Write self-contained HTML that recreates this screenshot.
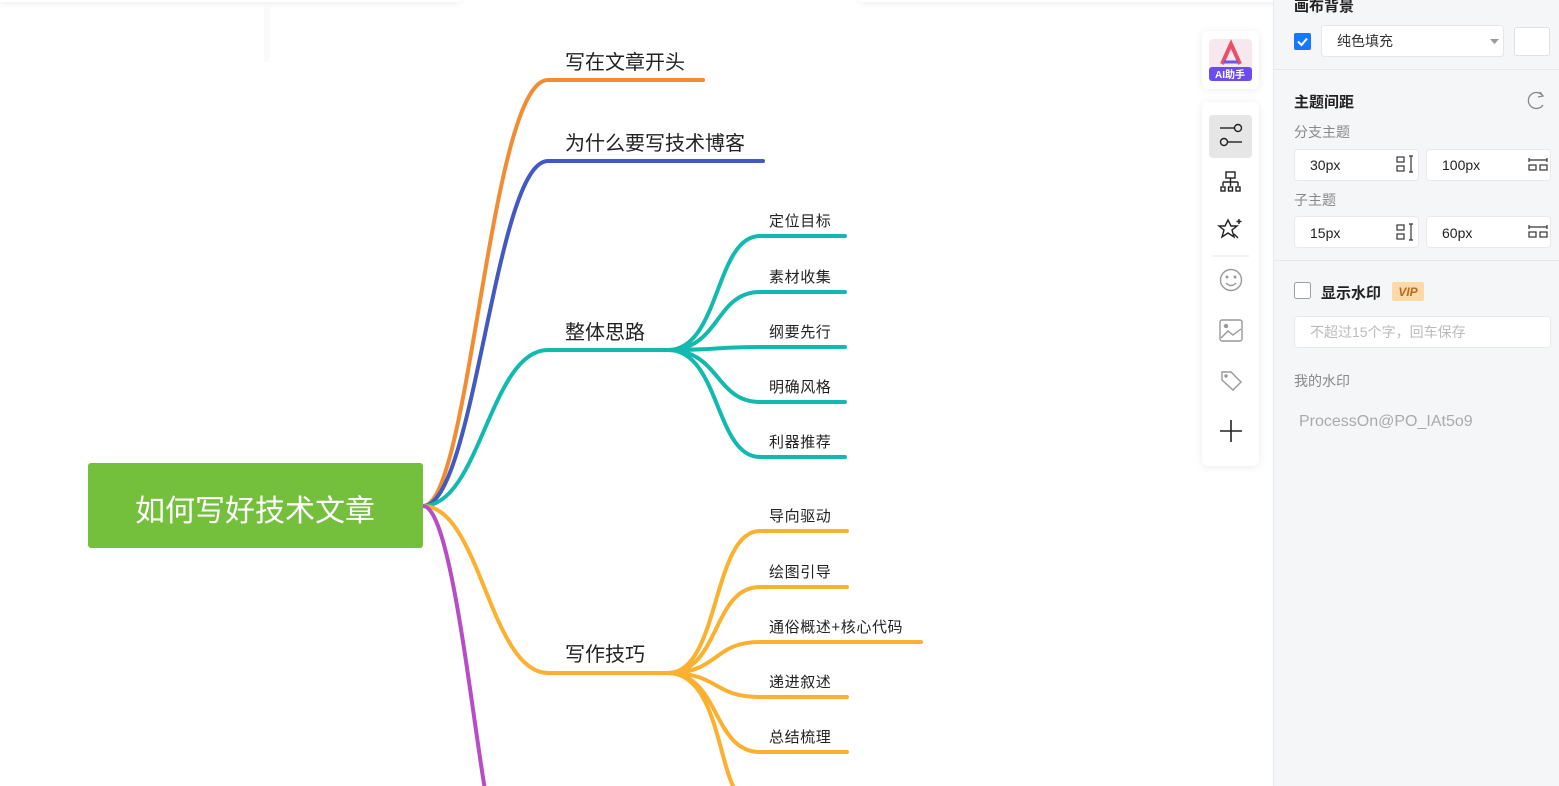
<!DOCTYPE html>
<html><head><meta charset="utf-8"><style>
html,body{margin:0;padding:0;width:1559px;height:786px;overflow:hidden;background:#fff;font-family:"Liberation Sans","Noto Sans CJK SC",sans-serif;}
</style></head><body>
<svg width="1559" height="786" viewBox="0 0 1559 786" xmlns="http://www.w3.org/2000/svg" style="position:absolute;left:0;top:0;font-family:'Liberation Sans','Noto Sans CJK SC',sans-serif">
<defs>
<filter id="sh" x="-50%" y="-50%" width="200%" height="200%"><feDropShadow dx="0" dy="1" stdDeviation="4" flood-color="#000" flood-opacity="0.08"/></filter>
</defs>
<rect x="0" y="-10" width="460" height="12" fill="#fff" filter="url(#sh)"/>
<rect x="860" y="-10" width="420" height="12" fill="#fff" filter="url(#sh)"/>
<rect x="264" y="6" width="6" height="56" fill="#fafafa"/>
<g fill="none" stroke-width="4" stroke-linecap="round">
<path d="M423,506 C470,506 490,80 548,80 L703,80" stroke="#f28c33"/>
<path d="M423,506 C475,506 495,161 548,161 L763,161" stroke="#4159c0"/>
<path d="M423,506 C480,506 490,350 548,350 L668,350" stroke="#12b9ae"/>
<path d="M423,506 C480,506 490,673 548,673 L668,673" stroke="#fbb02f"/>
<path d="M423,506 C450,506 470,700 485,790" stroke="#b84bc6"/>
<g stroke="#12b9ae">
<path d="M668,350 C720,350 715,236 760,236 L845,236"/>
<path d="M668,350 C720,350 715,292 760,292 L845,292"/>
<path d="M668,350 C720,350 715,347 760,347 L845,347"/>
<path d="M668,350 C720,350 715,402 760,402 L845,402"/>
<path d="M668,350 C720,350 715,457 760,457 L845,457"/>
</g>
<g stroke="#fbb02f">
<path d="M668,673 C720,673 712,531 760,531 L847,531"/>
<path d="M668,673 C720,673 712,587 760,587 L847,587"/>
<path d="M668,673 C720,673 712,642 760,642 L921,642"/>
<path d="M668,673 C720,673 712,697 760,697 L847,697"/>
<path d="M668,673 C720,673 712,752 760,752 L847,752"/>
<path d="M668,673 C715,673 718,760 735,790"/>
</g>
</g>
<rect x="88" y="463" width="335" height="85" rx="3" fill="#74c03c"/>
<text x="255" y="521" font-size="30" fill="#fff" text-anchor="middle">如何写好技术文章</text>
<g font-size="20" fill="#222">
<text x="565" y="69">写在文章开头</text>
<text x="565" y="150">为什么要写技术博客</text>
<text x="565" y="339">整体思路</text>
<text x="565" y="661">写作技巧</text>
</g>
<g font-size="15" fill="#222" letter-spacing="0.6">
<text x="769" y="226">定位目标</text>
<text x="769" y="282">素材收集</text>
<text x="769" y="337">纲要先行</text>
<text x="769" y="392">明确风格</text>
<text x="769" y="447">利器推荐</text>
<text x="769" y="521">导向驱动</text>
<text x="769" y="577">绘图引导</text>
<text x="769" y="632">通俗概述+核心代码</text>
<text x="769" y="687">递进叙述</text>
<text x="769" y="742">总结梳理</text>
</g>
<rect x="1202" y="31" width="57" height="58" rx="6" fill="#fff" filter="url(#sh)"/>
<rect x="1209" y="39" width="43" height="42" rx="4" fill="#f6e8ef"/>
<path d="M1222,64 L1231,44 L1240,64" stroke="#e8506a" stroke-width="4" fill="none"/>
<path d="M1224,62 L1238,62" stroke="#6b55e8" stroke-width="3"/>
<rect x="1209" y="67" width="43" height="14" rx="3" fill="#6c4cf0"/>
<text x="1230" y="78" font-size="10" fill="#fff" text-anchor="middle" font-weight="bold">AI助手</text>
<rect x="1202" y="102" width="57" height="364" rx="6" fill="#fff" filter="url(#sh)"/>
<rect x="1209" y="115" width="43" height="43" rx="4" fill="#e6e6e6"/>
<g stroke="#222" stroke-width="1.4" fill="none">
<path d="M1220,128 H1234"/><circle cx="1238" cy="128" r="3.5"/>
<circle cx="1224" cy="142" r="3.5"/><path d="M1228,142 H1242"/>
<rect x="1226" y="172" width="9" height="6"/><path d="M1230.5,178 V182 M1223,182 H1238 M1223,182 V186 M1230.5,182 V186 M1238,182 V186"/>
<rect x="1221" y="187" width="4" height="4"/><rect x="1228.5" y="187" width="4" height="4"/><rect x="1236" y="187" width="4" height="4"/>
<path d="M1228,220 L1231,226 L1237,226 L1232,230 L1234,237 L1228,233 L1222,237 L1224,230 L1219,226 L1225,226 Z"/>
<path d="M1234,234 L1238,238 M1239,219 V224 M1236.5,221.5 H1241.5"/>
</g>
<path d="M1212,256 H1249" stroke="#e5e5e5"/>
<g stroke="#999" stroke-width="1.4" fill="none">
<circle cx="1231" cy="280" r="10.5"/><circle cx="1227" cy="277" r="0.8" fill="#999"/><circle cx="1235" cy="277" r="0.8" fill="#999"/><path d="M1226,283 Q1231,288 1236,283"/>
<rect x="1220" y="320" width="22" height="21" rx="2"/><circle cx="1226" cy="326" r="1.5" fill="#999"/><path d="M1221,338 L1228,331 L1233,335 L1241,329"/>
<path d="M1222,372 H1231 L1241,382 L1233,390 L1222,380 Z"/><circle cx="1226" cy="376" r="1" fill="#999"/>
</g>
<path d="M1220,431 H1242 M1231,420 V442" stroke="#222" stroke-width="1.6"/>
<rect x="1273" y="0" width="286" height="786" fill="#f5f6f8"/>
<path d="M1273.5,0 V786" stroke="#e8e9ec"/>
<text x="1294" y="11" font-size="15" font-weight="bold" fill="#222">画布背景</text>
<rect x="1294" y="33" width="17" height="17" rx="2" fill="#1677ff"/>
<path d="M1298,41.5 L1301.5,45 L1307,38.5" stroke="#fff" stroke-width="2" fill="none"/>
<rect x="1321.5" y="25.5" width="182" height="31" rx="3" fill="#fff" stroke="#e5e6ea"/>
<text x="1337" y="46" font-size="14" fill="#333">纯色填充</text>
<path d="M1490,39 L1499,39 L1494.5,44 Z" fill="#999"/>
<rect x="1514.5" y="27.5" width="35" height="28" rx="2" fill="#fff" stroke="#e0e1e5"/>
<path d="M1274,69.5 H1559" stroke="#e6e7ea"/>
<text x="1294" y="107" font-size="15" font-weight="bold" fill="#222">主题间距</text>
<path d="M1543,96 A8,8 0 1 0 1543,105" stroke="#888" stroke-width="1.3" fill="none"/>
<path d="M1540,92 L1543,96 L1538,97" stroke="#888" stroke-width="1.3" fill="none"/>
<text x="1294" y="137" font-size="14" fill="#888">分支主题</text>
<text x="1294" y="205" font-size="14" fill="#888">子主题</text>
<g fill="#fff" stroke="#e8e9ec">
<rect x="1294.5" y="149.5" width="124" height="31" rx="3"/>
<rect x="1426.5" y="149.5" width="124" height="31" rx="3"/>
<rect x="1294.5" y="216.5" width="124" height="31" rx="3"/>
<rect x="1426.5" y="216.5" width="124" height="31" rx="3"/>
</g>
<g font-size="14" fill="#222">
<text x="1310" y="170">30px</text><text x="1442" y="170">100px</text>
<text x="1310" y="238">15px</text><text x="1442" y="238">60px</text>
</g>
<g stroke="#333" stroke-width="1.2" fill="none">
<rect x="1397" y="157" width="7" height="5"/><rect x="1397" y="166" width="7" height="5"/><path d="M1411,156 V172 M1409,156 H1413 M1409,172 H1413"/>
<rect x="1397" y="225" width="7" height="5"/><rect x="1397" y="234" width="7" height="5"/><path d="M1411,224 V240 M1409,224 H1413 M1409,240 H1413"/>
<path d="M1529,160 H1547 M1529,158 V162 M1547,158 V162"/><rect x="1529" y="165" width="7" height="5"/><rect x="1540" y="165" width="7" height="5"/>
<path d="M1529,227 H1547 M1529,225 V229 M1547,225 V229"/><rect x="1529" y="232" width="7" height="5"/><rect x="1540" y="232" width="7" height="5"/>
</g>
<path d="M1274,260.5 H1559" stroke="#e6e7ea"/>
<rect x="1294.5" y="282.5" width="16" height="16" rx="2" fill="#fff" stroke="#9aa0aa"/>
<text x="1321" y="298" font-size="15" font-weight="bold" fill="#222">显示水印</text>
<rect x="1392" y="282" width="32" height="19" rx="2" fill="#fdd9a8"/>
<text x="1408" y="296" font-size="12" font-style="italic" font-weight="bold" fill="#b86a1c" text-anchor="middle">VIP</text>
<rect x="1294.5" y="316.5" width="256" height="31" rx="3" fill="#fff" stroke="#e8e9ec"/>
<text x="1310" y="337" font-size="14" fill="#bbb">不超过15个字，回车保存</text>
<text x="1294" y="386" font-size="14" fill="#888">我的水印</text>
<text x="1299" y="426" font-size="16" fill="#aaa">ProcessOn@PO_IAt5o9</text>
</svg>
</body></html>
